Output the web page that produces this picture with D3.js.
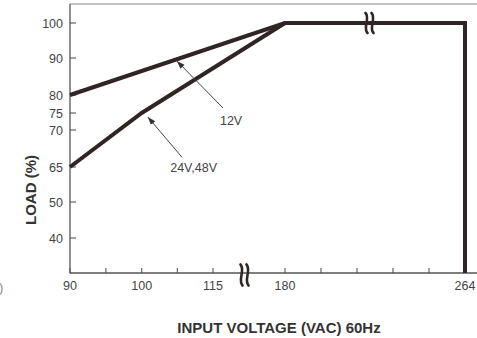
<!DOCTYPE html>
<html><head><meta charset="utf-8">
<script src="https://cdn.jsdelivr.net/npm/d3@7"></script>
<style>body{margin:0;background:#fff}svg{display:block}</style>
</head><body>
<script>
const xTickLabels = [90, 100, 115, 180, 264];
const xMinorTicks = [95, 107.5, 196.8, 213.6, 230.4, 247.2];
const yTickLabels = [40, 50, 65, 70, 75, 80, 90, 100];
const series12V = [[90, 80], [180, 100], [264, 100], [264, 30]];
const series24V48V = [[90, 65], [100, 75], [180, 100]];
const annotations = [
  {label: "12V", from: [124, 76.4], to: [107.4, 89.2], text: [121.3, 71.6]},
  {label: "24V,48V", from: [108.5, 66.3], to: [101.3, 73.8], text: [106, 62.8]}
];

const W = 477, H = 338;
const x = d3.scaleLinear().domain([90, 100, 115, 180, 264]).range([70, 141.7, 213, 285, 465]);
const y = d3.scaleLinear().domain([30, 40, 50, 65, 70, 75, 80, 90, 100]).range([273, 238, 202, 167, 130, 113, 95, 58, 23]);

const svg = d3.select("body").append("svg").attr("width", W).attr("height", H);
const font = "'Liberation Sans Narrow','Arial Narrow','Liberation Sans',sans-serif";

// frame
svg.append("line").attr("x1", 70).attr("x2", W).attr("y1", 4).attr("y2", 4).attr("stroke", "#8a8a8a").attr("stroke-width", 1.2);
svg.append("line").attr("x1", 70).attr("x2", 70).attr("y1", 4).attr("y2", 273.5).attr("stroke", "#555").attr("stroke-width", 1.3);
svg.append("line").attr("x1", 70).attr("x2", W).attr("y1", 273).attr("y2", 273).attr("stroke", "#555").attr("stroke-width", 1.3);

// y ticks
const gy = svg.append("g");
yTickLabels.forEach(v => {
  gy.append("line").attr("x1", 70).attr("x2", 76).attr("y1", y(v)).attr("y2", y(v)).attr("stroke", "#555").attr("stroke-width", 1.1);
  gy.append("text").attr("x", 63).attr("y", y(v)).attr("dy", "0.36em").attr("text-anchor", "end")
    .attr("font-family", font).attr("font-size", 12.5).attr("fill", "#444").text(v);
});
// x ticks
const gx = svg.append("g");
xTickLabels.concat(xMinorTicks).forEach(v => {
  gx.append("line").attr("x1", x(v)).attr("x2", x(v)).attr("y1", 273).attr("y2", 268).attr("stroke", "#555").attr("stroke-width", 1.1);
});
xTickLabels.forEach(v => {
  gx.append("text").attr("x", x(v)).attr("y", 290).attr("text-anchor", "middle")
    .attr("font-family", font).attr("font-size", 12.5).attr("fill", "#444").text(v);
});

// lines
const line = d3.line().x(d => x(d[0])).y(d => y(d[1]));
[series12V, series24V48V].forEach(s => {
  svg.append("path").datum(s).attr("d", line).attr("fill", "none").attr("stroke", "#2e2524")
    .attr("stroke-width", 4).attr("stroke-linejoin", "miter").attr("stroke-linecap", "butt");
});

// break marks
function breakMark(cx, cy, h) {
  const g = svg.append("g");
  [-3.5, 2.5].forEach(dx => {
    const x0 = cx + dx;
    g.append("path").attr("d",
      `M${x0 - 1},${cy - h/2} C${x0 + 4},${cy - h/4} ${x0 - 4},${cy + h/4} ${x0 + 1},${cy + h/2}`)
      .attr("fill", "none").attr("stroke", "#2e2524").attr("stroke-width", 2.6).attr("stroke-linecap", "round");
  });
}
breakMark(370, 23, 20);
breakMark(245, 275, 21);

// annotations
svg.append("defs").append("marker").attr("id", "ah").attr("viewBox", "0 0 10 10").attr("refX", 10).attr("refY", 5)
  .attr("markerWidth", 8).attr("markerHeight", 8).attr("markerUnits", "userSpaceOnUse").attr("orient", "auto")
  .append("path").attr("d", "M0,1.5 L10,5 L0,8.5 Z").attr("fill", "#333");
annotations.forEach(a => {
  svg.append("line").attr("x1", x(a.from[0])).attr("y1", y(a.from[1])).attr("x2", x(a.to[0])).attr("y2", y(a.to[1]))
    .attr("stroke", "#444").attr("stroke-width", 1).attr("marker-end", "url(#ah)");
  svg.append("text").attr("x", x(a.text[0])).attr("y", y(a.text[1])).attr("font-family", font).attr("font-size", 12.5)
    .attr("fill", "#444").text(a.label);
});

// axis titles
svg.append("text").attr("transform", "translate(36,190) rotate(-90)").attr("text-anchor", "middle")
  .attr("font-family", font).attr("font-weight", "bold").attr("font-size", 15).attr("fill", "#333").text("LOAD (%)");
svg.append("text").attr("x", 279).attr("y", 333).attr("text-anchor", "middle")
  .attr("font-family", font).attr("font-weight", "bold").attr("font-size", 15).attr("fill", "#333").text("INPUT VOLTAGE (VAC) 60Hz");
svg.append("text").attr("x", -1).attr("y", 292).attr("font-family", font).attr("font-size", 13).attr("fill", "#888").text(")");
</script>
</body></html>
